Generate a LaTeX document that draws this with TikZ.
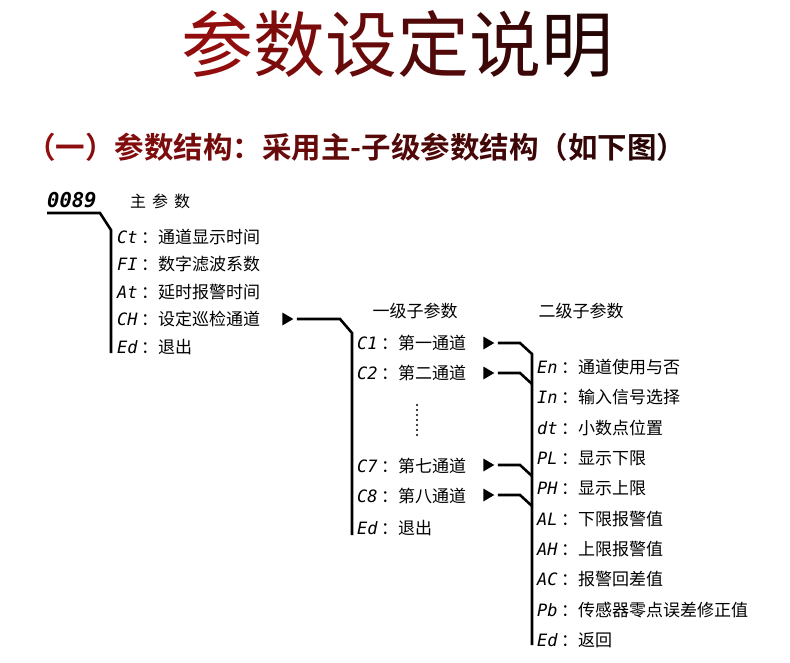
\documentclass[tikz,border=0pt]{standalone}
\usepackage{fontspec}
\setmainfont{Noto Sans CJK SC}[BoldFont={Noto Sans CJK SC Bold}]
\newfontfamily\segfont{DejaVu Sans Mono}
\usetikzlibrary{shapes.geometric}
\definecolor{tred}{RGB}{146,14,14}
\definecolor{tdark}{RGB}{38,5,5}
\newcommand{\code}[1]{\makebox[24pt][l]{\segfont\itshape #1}：}
\tikzset{
	item/.style={anchor=west, inner sep=0pt, font=\fontsize{17}{17}\selectfont},
	head/.style={inner sep=0pt, font=\fontsize{17}{17}\selectfont},
	trunk/.style={line width=2.6pt},
	tip/.style={isosceles triangle, fill, inner sep=0pt, minimum width=13pt, minimum height=11pt, isosceles triangle stretches},
}
\begin{document}
\begin{tikzpicture}[x=1pt, y=1pt]
		\fill[white] (0,0) rectangle (790,-663);
		% titles
		\node[inner sep=0pt, font=\fontsize{72}{72}\selectfont] (title) at (397,-44) {\foreach \zi [count=\i from 0] in {参,数,设,定,说,明}{\pgfmathtruncatemacro\p{100-20*\i}\textcolor{tred!\p!tdark}{\zi}}};
		\node[anchor=west, inner sep=0pt, font=\fontsize{29.5}{29.5}\selectfont\bfseries] (sub) at (26,-147) {\foreach \zi [count=\i from 0] in {（,一,）,参,数,结,构,：,采,用,主,-,子,级,参,数,结,构,（,如,下,图,）}{\pgfmathtruncatemacro\p{100-100*\i/22}\textcolor{tred!\p!tdark}{\zi}}};
		
		% main parameters
		\node[anchor=west, inner sep=0pt, font=\fontsize{20.5}{20.5}\selectfont\segfont\bfseries\itshape] (top) at (47,-200) {0089};
		\node[head, anchor=west, font=\fontsize{16}{16}\selectfont] (toplbl) at (130,-201) {主\hspace{6pt}参\hspace{6pt}数};
		\node[item] (ct) at (117,-237) {\code{Ct}通道显示时间};
		\node[item] (fi) at (117,-264.5) {\code{FI}数字滤波系数};
		\node[item] (at) at (117,-292) {\code{At}延时报警时间};
		\node[item] (ch) at (117,-319.5) {\code{CH}设定巡检通道};
		\node[item] (ed) at (117,-347) {\code{Ed}退出};
		\coordinate (m0) at (47,-213);
		\coordinate (m1) at (100,-213);
		\coordinate (m2) at (111,-230);
		\coordinate (m3) at (111,-353);
		\draw[trunk] (m0) -- (m1) -- (m2) -- (m3);
		
		% first level
		\node[tip] (a0) at (286,-319) {};
		\coordinate (n0) at (340,-319);
		\coordinate (n1) at (352,-333);
		\coordinate (n2) at (352,-535);
		\draw[trunk] ([xshift=3pt]a0.east) -- (n0) -- (n1) -- (n2);
		\node[head] (lvl1) at (415,-311) {一级子参数};
		\node[item] (c1) at (357,-343) {\code{C1}第一通道};
		\node[item] (c2) at (357,-373) {\code{C2}第二通道};
		\node[item] (c7) at (357,-466) {\code{C7}第七通道};
		\node[item] (c8) at (357,-496) {\code{C8}第八通道};
		\node[item] (ed1) at (357,-528) {\code{Ed}退出};
		\foreach \k in {0,...,6}
			\fill (417,{-405-5*\k}) circle (1.2);
		
		% second level
		\node[tip] (a1) at (487,-343) {};
		\node[tip] (a2) at (487,-373) {};
		\node[tip] (a7) at (487,-465) {};
		\node[tip] (a8) at (487,-495) {};
		\coordinate (p1) at (532,-354);
		\coordinate (p2) at (532,-384);
		\coordinate (p7) at (532,-476);
		\coordinate (p8) at (532,-506);
		\coordinate (p9) at (532,-645);
		\draw[trunk] ([xshift=3pt]a1.east) -- (520,-343) -- (p1) -- (p9);
		\draw[trunk] ([xshift=3pt]a2.east) -- (520,-373) -- (p2);
		\draw[trunk] ([xshift=3pt]a7.east) -- (520,-465) -- (p7);
		\draw[trunk] ([xshift=3pt]a8.east) -- (520,-495) -- (p8);
		\node[head] (lvl2) at (581,-311) {二级子参数};
		\node[item] (en) at (537,-367) {\code{En}通道使用与否};
		\node[item] (in) at (537,-397.3) {\code{In}输入信号选择};
		\node[item] (dt) at (537,-427.7) {\code{dt}小数点位置};
		\node[item] (pl) at (537,-458) {\code{PL}显示下限};
		\node[item] (ph) at (537,-488.3) {\code{PH}显示上限};
		\node[item] (al) at (537,-518.7) {\code{AL}下限报警值};
		\node[item] (ah) at (537,-549) {\code{AH}上限报警值};
		\node[item] (ac) at (537,-579.3) {\code{AC}报警回差值};
		\node[item] (pb) at (537,-609.7) {\code{Pb}传感器零点误差修正值};
		\node[item] (ed2) at (537,-640) {\code{Ed}返回};
		
\end{tikzpicture}
\end{document}
